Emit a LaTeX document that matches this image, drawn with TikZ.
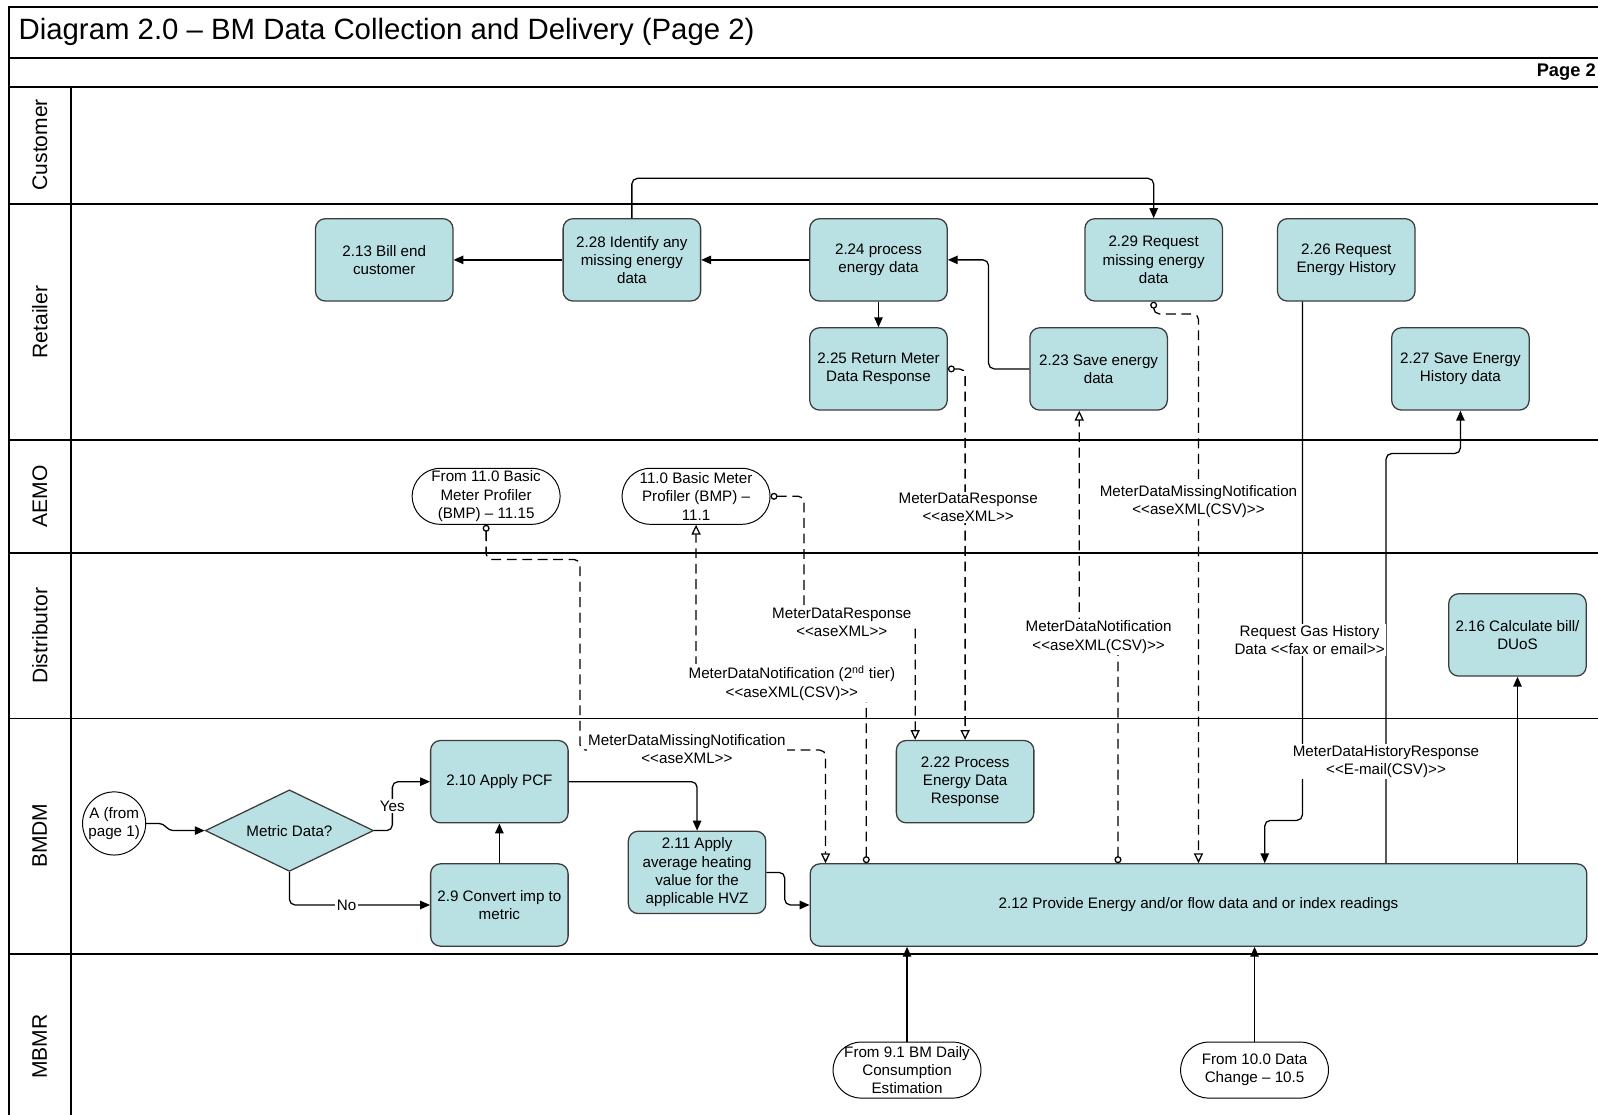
\documentclass[tikz,border=0pt]{standalone}
\usepackage{fontspec}
\setmainfont{Liberation Sans}[Ligatures=TeXOff]
\usepackage{xcolor}
\usepackage{tikz}
\usetikzlibrary{shapes, arrows.meta, positioning}

\definecolor{boxfill}{RGB}{185,224,227}
\definecolor{boxline}{RGB}{60,60,60}

\begin{document}
\begin{tikzpicture}[x=0.0255cm, y=-0.0255cm,
  every node/.style={font=\fontsize{10.8}{13}\selectfont, align=center, inner sep=0pt},
  procbox/.style={draw=boxline, line width=0.9pt, fill=boxfill, rectangle, rounded corners=7pt, minimum width=3.44cm, minimum height=2.06cm},
  termbox/.style={draw=black, line width=0.7pt, fill=white, rectangle, rounded corners=0.7cm, minimum width=3.7cm, minimum height=1.4cm},
  lanelbl/.style={rotate=90, font=\fontsize{15}{18}\selectfont},
  lane/.style={line width=1.4pt},
  flow/.style={draw, line width=0.9pt, rounded corners=4pt, -{Triangle[length=7pt,width=6pt]}},
  msg/.style={draw, line width=0.9pt, rounded corners=4pt, dash pattern=on 7pt off 4pt, {Circle[open,length=5pt]}-{Triangle[open,length=7pt,width=6.5pt]}},
  msglbl/.style={fill=white, inner sep=1pt}
]
\useasboundingbox (0,0) rectangle (1568,1094);

% frame and lanes
\draw[lane] (9,1094) -- (9,7) -- (1568,7);
\foreach \ly in {57,85,200,432,543,705,936}
  \draw[lane] (9,\ly) -- (1568,\ly);
\draw[lane] (70,85) -- (70,1094);

\node[anchor=west, font=\fontsize{20.9}{25}\selectfont] (title) at (18,31) {Diagram 2.0 – BM Data Collection and Delivery (Page 2)};
\node[anchor=east, font=\bfseries\fontsize{13}{15}\selectfont] (pg) at (1566,71) {Page 2};

\node[lanelbl] (lCust) at (39,142) {Customer};
\node[lanelbl] (lRet) at (39,316) {Retailer};
\node[lanelbl] (lAemo) at (39,487) {AEMO};
\node[lanelbl] (lDist) at (39,624) {Distributor};
\node[lanelbl] (lBmdm) at (39,820) {BMDM};
\node[lanelbl] (lMbmr) at (39,1027) {MBMR};

% processes
\node[procbox] (n213) at (377,255) {2.13 Bill end\\customer};
\node[procbox] (n228) at (620,255) {2.28 Identify any\\missing energy\\data};
\node[procbox] (n224) at (862,255) {2.24 process\\energy data};
\node[procbox] (n229) at (1132,255) {2.29 Request\\missing energy\\data};
\node[procbox] (n226) at (1321,255) {2.26 Request\\Energy History};
\node[procbox] (n225) at (862,362) {2.25 Return Meter\\Data Response};
\node[procbox] (n223) at (1078,362) {2.23 Save energy\\data};
\node[procbox] (n227) at (1433,362) {2.27 Save Energy\\History data};
\node[procbox] (n216) at (1489,623) {2.16 Calculate bill/\\DUoS};
\node[procbox] (n222) at (947,767) {2.22 Process\\Energy Data\\Response};
\node[procbox] (n210) at (490,767) {2.10 Apply PCF};
\node[procbox] (n29) at (490,888) {2.9 Convert imp to\\metric};
\node[procbox] (n211) at (684,856) {2.11 Apply\\average heating\\value for the\\applicable HVZ};
\node[procbox, minimum width=19.43cm] (n212) at (1176,888) {2.12 Provide Energy and/or flow data and or index readings};
\node[diamond, draw=boxline, fill=boxfill, line width=0.9pt, minimum width=4.21cm, minimum height=2.04cm, aspect=2.06] (dec) at (284,815) {Metric Data?};
\node[circle, draw, line width=0.7pt, minimum size=1.58cm] (nA) at (112,808) {A (from\\page 1)};

% off-page references
\node[termbox] (t1115) at (477,487) {From 11.0 Basic\\Meter Profiler\\(BMP) – 11.15};
\node[termbox] (t111) at (683,487) {11.0 Basic Meter\\Profiler (BMP) –\\11.1};
\node[termbox] (t91) at (890,1050) {From 9.1 BM Daily\\Consumption\\Estimation};
\node[termbox] (t105) at (1231,1050) {From 10.0 Data\\Change – 10.5};

% flows
\draw[flow] (n228.west) -- (n213.east);
\draw[flow] (n224.west) -- (n228.east);
\draw[flow] (n228.north) -- (620,175) -| (n229.north);
\draw[flow] (n224.south) -- (n225.north);
\draw[flow] (n223.west) -- (970,362) |- (n224.east);
\draw[flow] (1278,0 |- n226.south) -- (1278,805) -- (1241,805) -- (1241,0 |- n212.north);
\draw[flow] (1360,0 |- n212.north) -- (1360,445) -| (n227.south);
\draw[flow] (n216.south |- n212.north) -- (n216.south);
\draw[flow] (n210.east) -| (n211.north);
\draw[flow] (n211.east) -- (770,856) |- (n212.west);
\draw[flow] (n29.north) -- (n210.south);
\draw[flow] (dec.east) -- (385,815) |- (n210.west);
\draw[flow] (dec.south) |- (n29.west);
\draw[flow, rounded corners=3pt] (nA.east) -- (160,808) -- (166,815) -- (dec.west);
\draw[flow] (t91.north) -- (t91.north |- n212.south);
\draw[flow] (t105.north) -- (t105.north |- n212.south);

% messages
\draw[msg] (n229.south) -- (1132,308) -| (1176,0 |- n212.north);
\draw[msg] (n225.east) -| (947,0 |- n222.north);
\draw[msg] (t111.east) -- (789,487) -- (789,612) -- (898,612) -- (898,0 |- n222.north);
\draw[msg] (850,0 |- n212.north) -- (850,670) -- (683,670) -- (t111.south);
\draw[msg] (t1115.south) -- (477,549) -- (569,549) -- (569,736) -- (810,736) -- (810,0 |- n212.north);
\draw[msg] (1097,0 |- n212.north) -- (1097,625) -- (1059,625) -- (1059,0 |- n223.south);

\node[msglbl] (lYes) at (385,791) {Yes};
\node[msglbl] (lNo) at (340,888) {No};
\node[msglbl] (lMdr1) at (950,498) {MeterDataResponse\\<<aseXML>>};
\node[msglbl] (lMdmn1) at (1176,492) {MeterDataMissingNotification\\<<aseXML(CSV)>>};
\node[msglbl] (lMdr2) at (826,611) {MeterDataResponse\\<<aseXML>>};
\node[msglbl] (lMdn2) at (777,670) {MeterDataNotification (2\textsuperscript{nd} tier)\\<<aseXML(CSV)>>};
\node[msglbl] (lMdmn2) at (674,735) {MeterDataMissingNotification\\<<aseXML>>};
\node[msglbl] (lMdn1) at (1078,625) {MeterDataNotification\\<<aseXML(CSV)>>};
\node[msglbl] (lGas) at (1285,628) {Request Gas History\\Data <<fax or email>>};
\node[msglbl] (lHist) at (1360,747) {MeterDataHistoryResponse\\<<E-mail(CSV)>>};
\end{tikzpicture}
\end{document}
